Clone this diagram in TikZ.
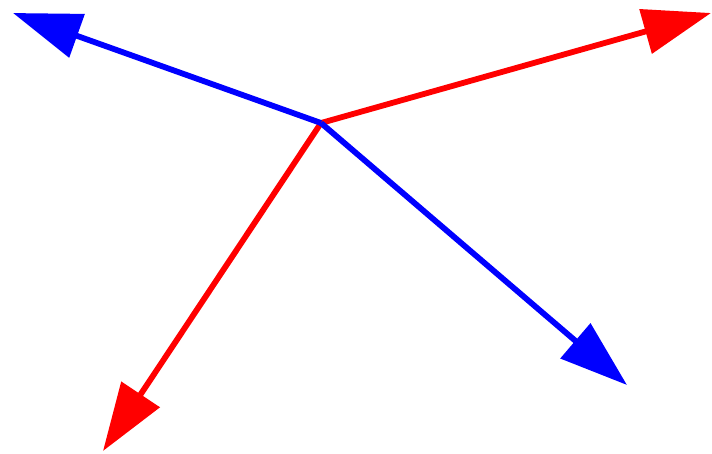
\documentclass[tikz,border=0pt]{standalone}
\usepackage{tikz}
\usetikzlibrary{arrows.meta}

\begin{document}
\begin{tikzpicture}[
    x=1pt, y=-1pt,
    vec/.style={
      line width=5.8pt,
      -{Triangle[length=68pt, width=45pt]},
    },
    vecA/.style={vec, draw=blue},
    vecB/.style={vec, draw=red},
  ]
    \useasboundingbox (0,0) rectangle (712,453);

    % ---- origin and end points ----
    \coordinate (o) at (321,123);
    \coordinate (ul) at (13,13);
    \coordinate (ur) at (711,13);
    \coordinate (lr) at (627,385);
    \coordinate (ll) at (103,451);

    % ---- red pair ----
    \draw[vecB] (o) -- (ur);
    \draw[vecB] (o) -- (ll);

    % ---- blue pair ----
    \draw[vecA] (o) -- (ul);
    \draw[vecA] (o) -- (lr);
  \end{tikzpicture}
\end{document}
